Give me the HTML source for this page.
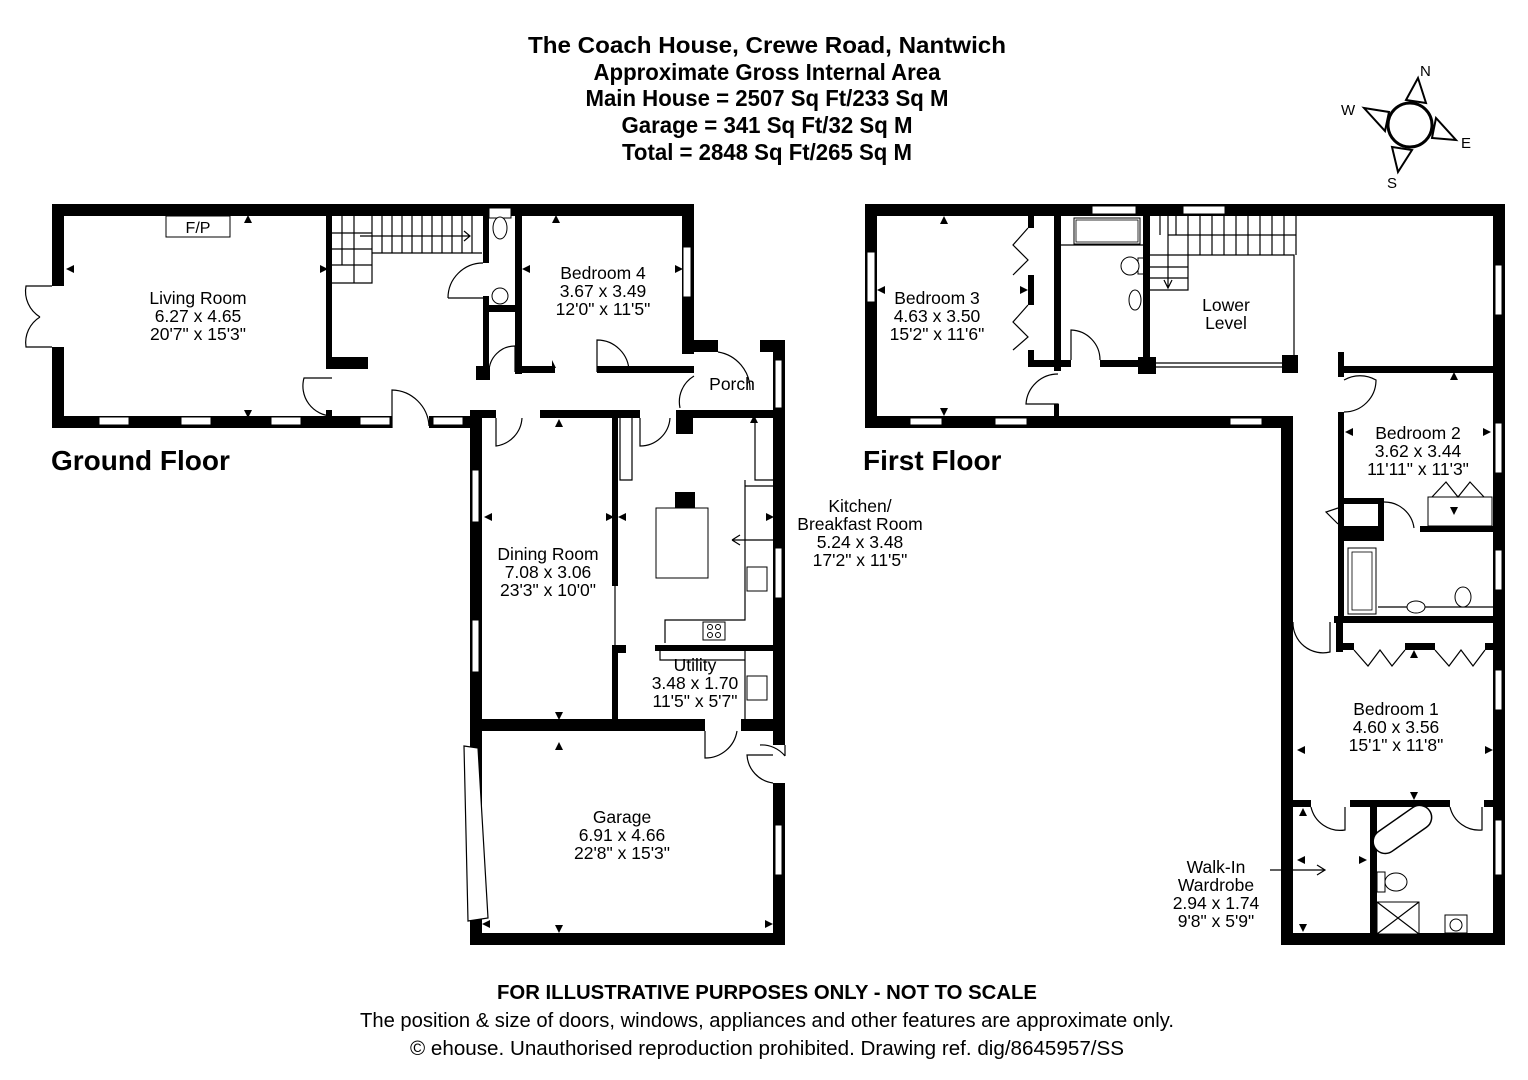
<!DOCTYPE html>
<html><head><meta charset="utf-8"><style>
html,body{margin:0;padding:0;background:#fff}
svg{display:block}
text{font-family:"Liberation Sans",Arial,sans-serif;fill:#000}
.t{font-size:23px;font-weight:bold;text-anchor:middle}
.r{font-size:17.5px;text-anchor:middle}
.f{font-size:28px;font-weight:bold}
.ft{font-size:20px;text-anchor:middle}
.w{fill:#000}
.win{fill:#fff;stroke:#000;stroke-width:1}
.ln{fill:none;stroke:#000;stroke-width:1.2}
</style></head><body>
<svg width="1528" height="1080" viewBox="0 0 1528 1080" xmlns="http://www.w3.org/2000/svg">
<!-- Title -->
<text class="t" x="767" y="53" textLength="478" lengthAdjust="spacingAndGlyphs">The Coach House, Crewe Road, Nantwich</text>
<text class="t" x="767" y="80" textLength="347" lengthAdjust="spacingAndGlyphs">Approximate Gross Internal Area</text>
<text class="t" x="767" y="106" textLength="363" lengthAdjust="spacingAndGlyphs">Main House = 2507 Sq Ft/233 Sq M</text>
<text class="t" x="767" y="133" textLength="291" lengthAdjust="spacingAndGlyphs">Garage = 341 Sq Ft/32 Sq M</text>
<text class="t" x="767" y="160" textLength="290" lengthAdjust="spacingAndGlyphs">Total = 2848 Sq Ft/265 Sq M</text>

<!-- Compass -->
<g>
<polygon points="1418,78 1426,103 1406,100" fill="#fff" stroke="#000" stroke-width="2"/>
<polygon points="1398,172 1392,147 1412,150" fill="#fff" stroke="#000" stroke-width="2"/>
<polygon points="1364,108 1389,112 1385,131" fill="#fff" stroke="#000" stroke-width="2"/>
<polygon points="1456,140 1432,138 1436,118" fill="#fff" stroke="#000" stroke-width="2"/>
<circle cx="1410" cy="125" r="22" fill="#fff" stroke="#000" stroke-width="3"/>
<text x="1420" y="76" style="font-size:15px">N</text>
<text x="1341" y="115" style="font-size:15px">W</text>
<text x="1461" y="148" style="font-size:15px">E</text>
<text x="1387" y="188" style="font-size:15px">S</text>
</g>

<!-- ============ GROUND FLOOR ============ -->
<g>
<rect class="w" x="52" y="204" width="642" height="12"/>
<rect class="w" x="52" y="204" width="12" height="82"/>
<rect class="w" x="52" y="347" width="12" height="81"/>
<rect class="w" x="52" y="416" width="340" height="12"/>
<rect class="w" x="429" y="416" width="53" height="12"/>
<rect class="win" x="99" y="417" width="30" height="8"/>
<rect class="win" x="181" y="417" width="30" height="8"/>
<rect class="win" x="271" y="417" width="30" height="8"/>
<rect class="win" x="360" y="417" width="30" height="8"/>
<rect class="win" x="433" y="417" width="30" height="8"/>
<path class="ln" d="M392,428 L392,390 A38,38 0 0 1 429,426"/>
<path class="ln" d="M52,286 L26,286 A30,30 0 0 0 40,317 M52,347 L26,347 A30,30 0 0 1 40,317"/>
<rect x="166" y="216" width="64" height="21" fill="#fff" stroke="#000" stroke-width="1"/>
<text x="198" y="233" style="font-size:16px;text-anchor:middle">F/P</text>
<rect class="w" x="326" y="216" width="6" height="146"/>
<rect class="w" x="326" y="357" width="42" height="12"/>
<path class="ln" d="M332,378 L304,378 A30,30 0 0 0 332,416"/>
<rect class="w" x="326" y="410" width="6" height="6"/>
<path class="ln" d="M342,216 V265 M332,233 H372 M332,249 H372 M332,265 H372 M372,265 V283 H332 M372,216 V283 M354,216 V283 M372,253 H482 M372,216 V253"/>
<path class="ln" d="M382,216 V253 M392,216 V253 M402,216 V253 M412,216 V253 M422,216 V253 M432,216 V253 M442,216 V253 M452,216 V253 M462,216 V253 M472,216 V253 M360,236 H470 M464,231 L470,236 L464,241"/>
<!-- WC -->
<rect class="w" x="483" y="216" width="6" height="47"/>
<rect class="w" x="515" y="216" width="7" height="158"/>
<rect class="w" x="483" y="305" width="39" height="7"/>
<rect class="w" x="483" y="296" width="6" height="84"/>
<path class="ln" d="M448,298 A35,35 0 0 1 483,263 M448,298 H483"/>
<rect x="489" y="208" width="22" height="10" fill="#fff" stroke="#000"/>
<ellipse cx="500" cy="228" rx="7" ry="11" fill="#fff" stroke="#000"/>
<circle cx="500" cy="296" r="8" fill="#fff" stroke="#000"/>
<path class="ln" d="M489,372 A26,26 0 0 1 515,346 L515,372"/>
<rect class="w" x="476" y="366" width="14" height="14"/>
<rect class="w" x="476" y="410" width="6" height="6"/>
<rect class="w" x="515" y="366" width="40" height="7"/>
<rect class="w" x="597" y="366" width="97" height="7"/>
<path class="ln" d="M597,372 L597,340 A32,32 0 0 1 629,372"/>
<rect class="w" x="682" y="204" width="12" height="150"/>
<rect class="win" x="683" y="247" width="8" height="50"/>
<text class="r" x="603" y="279">Bedroom 4</text>
<text class="r" x="603" y="297">3.67 x 3.49</text>
<text class="r" x="603" y="315">12'0" x 11'5"</text>
<!-- Porch -->
<rect class="w" x="694" y="340" width="24" height="12"/>
<rect class="w" x="760" y="340" width="25" height="12"/>
<rect class="w" x="773" y="340" width="12" height="405"/>
<rect class="win" x="775" y="360" width="7" height="48"/>
<path class="ln" d="M718,352 A38,38 0 0 1 750,390"/>
<path class="ln" d="M694,376 A30,30 0 0 0 680,408"/>
<text class="r" x="732" y="390">Porch</text>
<rect class="w" x="470" y="410" width="26" height="8"/>
<rect class="w" x="540" y="410" width="100" height="8"/>
<rect class="w" x="676" y="410" width="109" height="8"/>
<rect class="w" x="676" y="410" width="17" height="24"/>
<path class="ln" d="M496,418 V446 A30,30 0 0 0 522,418"/>
<path class="ln" d="M640,418 V446 A30,30 0 0 0 670,418"/>
<rect class="w" x="470" y="410" width="12" height="335"/>
<rect class="win" x="472" y="470" width="7" height="52"/>
<rect class="win" x="472" y="620" width="7" height="52"/>
<rect class="w" x="470" y="745" width="12" height="200"/>
<polygon points="464,746 478,748 488,918 468,921" fill="#fff" stroke="#000" stroke-width="1.2"/>
<rect class="w" x="612" y="416" width="6" height="170"/>
<path class="ln" d="M615,586 V645"/>
<rect class="w" x="612" y="645" width="6" height="77"/>
<rect class="w" x="612" y="645" width="14" height="8"/>
<rect class="w" x="470" y="719" width="235" height="12"/>
<rect class="w" x="741" y="719" width="44" height="12"/>
<path class="ln" d="M705,731 V758 A32,32 0 0 0 737,731"/>
<text class="r" x="548" y="560">Dining Room</text>
<text class="r" x="548" y="578">7.08 x 3.06</text>
<text class="r" x="548" y="596">23'3" x 10'0"</text>
<path class="ln" d="M620,418 V480 H632 V418 M755,418 V480 H773 M745,480 V620 H665 V643 M745,486 H773"/>
<rect class="w" x="675" y="492" width="20" height="16"/>
<rect x="656" y="508" width="52" height="70" fill="#fff" stroke="#000"/>
<rect x="747" y="567" width="20" height="24" fill="#fff" stroke="#000"/>
<rect x="703" y="622" width="22" height="18" fill="#fff" stroke="#000"/>
<circle cx="710" cy="627" r="2.5" fill="none" stroke="#000"/><circle cx="718" cy="627" r="2.5" fill="none" stroke="#000"/>
<circle cx="710" cy="635" r="2.5" fill="none" stroke="#000"/><circle cx="718" cy="635" r="2.5" fill="none" stroke="#000"/>
<rect class="w" x="655" y="645" width="118" height="6"/>
<path class="ln" d="M660,651 V660 H745 V720 M745,660 V650"/>
<rect x="747" y="676" width="20" height="24" fill="#fff" stroke="#000"/>
<rect class="win" x="775" y="548" width="7" height="50"/>
<path class="ln" d="M785,540 H732 M732,540 L740,535 M732,540 L740,545"/>
<text class="r" x="860" y="512">Kitchen/</text>
<text class="r" x="860" y="530">Breakfast Room</text>
<text class="r" x="860" y="548">5.24 x 3.48</text>
<text class="r" x="860" y="566">17'2" x 11'5"</text>
<text class="r" x="695" y="671">Utility</text>
<text class="r" x="695" y="689">3.48 x 1.70</text>
<text class="r" x="695" y="707">11'5" x 5'7"</text>
<path class="ln" d="M785,756 A30,30 0 0 0 760,745 V745 M785,756 V745 M773,783 A30,30 0 0 1 747,755 L773,755"/>
<rect class="w" x="773" y="783" width="12" height="162"/>
<rect class="win" x="775" y="825" width="7" height="50"/>
<rect class="w" x="470" y="933" width="315" height="12"/>
<text class="r" x="622" y="823">Garage</text>
<text class="r" x="622" y="841">6.91 x 4.66</text>
<text class="r" x="622" y="859">22'8" x 15'3"</text>
<text class="r" x="198" y="304">Living Room</text>
<text class="r" x="198" y="322">6.27 x 4.65</text>
<text class="r" x="198" y="340">20'7" x 15'3"</text>
<g fill="#000">
<path d="M244,223 l4,-8 4,8z M244,410 l4,8 4,-8z M74,265 l-8,4 8,4z M320,265 l8,4 -8,4z"/>
<path d="M552,223 l4,-8 4,8z M552,360 l4,8 -4,0z M530,265 l-8,4 8,4z M675,265 l8,4 -8,4z"/>
<path d="M555,427 l4,-8 4,8z M555,712 l4,8 4,-8z M492,513 l-8,4 8,4z M606,513 l8,4 -8,4z M626,513 l-8,4 8,4z M766,513 l8,4 -8,4z"/>
<path d="M555,750 l4,-8 4,8z M555,925 l4,8 4,-8z M490,920 l-8,4 8,4z M765,920 l8,4 -8,4z M750,423 l4,-8 4,8z"/>
</g>
<text class="f" x="51" y="470">Ground Floor</text>
</g>

<!-- ============ FIRST FLOOR ============ -->
<g>
<rect class="w" x="865" y="204" width="640" height="12"/>
<rect class="win" x="1092" y="206" width="44" height="8"/>
<rect class="win" x="1183" y="206" width="42" height="8"/>
<rect class="w" x="865" y="204" width="12" height="224"/>
<rect class="win" x="867" y="252" width="8" height="50"/>
<rect class="w" x="865" y="416" width="428" height="12"/>
<rect class="win" x="910" y="418" width="32" height="7"/>
<rect class="win" x="995" y="418" width="32" height="7"/>
<rect class="win" x="1230" y="418" width="32" height="7"/>
<rect class="w" x="1281" y="416" width="12" height="529"/>
<rect class="w" x="1493" y="204" width="12" height="741"/>
<rect class="win" x="1495" y="265" width="7" height="50"/>
<rect class="win" x="1495" y="423" width="7" height="50"/>
<rect class="win" x="1495" y="550" width="7" height="40"/>
<rect class="win" x="1495" y="670" width="7" height="40"/>
<rect class="win" x="1495" y="820" width="7" height="55"/>
<rect class="w" x="1281" y="933" width="224" height="12"/>
<rect class="w" x="1028" y="216" width="6" height="12"/>
<rect class="w" x="1028" y="275" width="6" height="30"/>
<rect class="w" x="1028" y="350" width="6" height="16"/>
<rect class="w" x="1028" y="360" width="30" height="7"/>
<path class="ln" d="M1028,228 L1013,245 L1028,260 L1013,275 M1028,305 L1013,322 L1028,337 L1013,350"/>
<rect class="w" x="1054" y="216" width="7" height="155"/>
<path class="ln" d="M1058,374 A32,32 0 0 0 1026,404 L1058,404 V416"/>
<rect class="w" x="1054" y="404" width="5" height="12"/>
<text class="r" x="937" y="304">Bedroom 3</text>
<text class="r" x="937" y="322">4.63 x 3.50</text>
<text class="r" x="937" y="340">15'2" x 11'6"</text>
<rect x="1074" y="218" width="66" height="26" fill="#fff" stroke="#000"/>
<rect x="1076" y="220" width="62" height="22" fill="none" stroke="#000" stroke-width=".8"/>
<path class="ln" d="M1061,245 H1145"/>
<rect x="1138" y="258" width="8" height="16" fill="#fff" stroke="#000"/>
<ellipse cx="1130" cy="266" rx="9" ry="9" fill="#fff" stroke="#000"/>
<ellipse cx="1135" cy="300" rx="6" ry="10" fill="#fff" stroke="#000"/>
<rect class="w" x="1061" y="360" width="10" height="7"/>
<rect class="w" x="1100" y="360" width="50" height="7"/>
<path class="ln" d="M1071,360 V330 A30,30 0 0 1 1100,360"/>
<rect class="w" x="1143" y="216" width="7" height="157"/>
<rect class="w" x="1138" y="357" width="18" height="17"/>
<path class="ln" d="M1150,255 H1188 V290 H1150 M1150,267 H1188 M1150,278 H1188 M1168,235 V287 M1164,280 L1168,288 L1172,280"/>
<path class="ln" d="M1160,216 V235 M1168,216 V235 M1176,216 V235 M1188,216 V255 M1200,216 V255 M1212,216 V255 M1224,216 V255 M1236,216 V255 M1248,216 V255 M1260,216 V255 M1272,216 V255 M1284,216 V255 M1296,216 V255 M1168,235 H1296"/>
<path class="ln" d="M1188,255 H1294 V366 M1156,363 H1282 M1156,367 H1282"/>
<rect class="w" x="1282" y="355" width="16" height="18"/>
<text class="r" x="1226" y="311">Lower</text>
<text class="r" x="1226" y="329">Level</text>
<rect class="w" x="1338" y="352" width="6" height="25"/>
<rect class="w" x="1338" y="366" width="160" height="7"/>
<path class="ln" d="M1344,380 A32,32 0 0 1 1376,380 A32,32 0 0 1 1344,412"/>
<rect class="w" x="1338" y="412" width="6" height="90"/>
<rect class="w" x="1338" y="498" width="46" height="6"/>
<rect class="w" x="1378" y="498" width="6" height="28"/>
<rect class="w" x="1338" y="498" width="6" height="120"/>
<rect class="w" x="1338" y="526" width="46" height="15"/>
<path class="ln" d="M1384,502 A30,30 0 0 1 1414,528"/>
<rect class="w" x="1420" y="526" width="78" height="6"/>
<rect x="1428" y="497" width="64" height="29" fill="#fff" stroke="#000"/>
<path class="ln" d="M1432,497 L1446,482 L1458,497 L1470,482 L1484,497"/>
<path class="ln" d="M1338,508 L1326,512 L1338,524"/>
<text class="r" x="1418" y="439">Bedroom 2</text>
<text class="r" x="1418" y="457">3.62 x 3.44</text>
<text class="r" x="1418" y="475">11'11" x 11'3"</text>
<rect x="1348" y="548" width="28" height="66" fill="#fff" stroke="#000"/>
<rect x="1352" y="552" width="20" height="58" fill="none" stroke="#000" stroke-width=".8"/>
<path class="ln" d="M1378,607 H1493"/>
<ellipse cx="1416" cy="607" rx="9" ry="6" fill="#fff" stroke="#000"/>
<ellipse cx="1463" cy="597" rx="8" ry="10" fill="#fff" stroke="#000"/>
<rect class="w" x="1334" y="616" width="164" height="7"/>
<path class="ln" d="M1293,622 A30,30 0 0 0 1330,652 V622"/>
<rect class="w" x="1336" y="622" width="7" height="30"/>
<rect class="w" x="1336" y="643" width="18" height="7"/>
<rect class="w" x="1405" y="643" width="30" height="7"/>
<rect class="w" x="1485" y="643" width="13" height="7"/>
<path class="ln" d="M1354,650 L1368,666 L1380,650 L1392,666 L1405,650 M1435,650 L1449,666 L1461,650 L1473,666 L1485,650"/>
<text class="r" x="1396" y="715">Bedroom 1</text>
<text class="r" x="1396" y="733">4.60 x 3.56</text>
<text class="r" x="1396" y="751">15'1" x 11'8"</text>
<rect class="w" x="1293" y="800" width="18" height="7"/>
<rect class="w" x="1350" y="800" width="100" height="7"/>
<rect class="w" x="1484" y="800" width="14" height="7"/>
<path class="ln" d="M1311,807 A30,30 0 0 0 1345,830 V807 M1450,807 A30,30 0 0 0 1482,830 V807"/>
<rect class="w" x="1370" y="807" width="7" height="130"/>
<rect x="1374" y="816" width="66" height="24" rx="12" transform="rotate(-35 1407 836)" fill="#fff" stroke="#000" stroke-width="1.5"/>
<rect x="1377" y="872" width="8" height="20" fill="#fff" stroke="#000"/>
<ellipse cx="1396" cy="882" rx="11" ry="9" fill="#fff" stroke="#000"/>
<rect x="1377" y="902" width="42" height="32" fill="#fff" stroke="#000"/>
<path class="ln" d="M1377,902 L1419,934 M1419,902 L1377,934"/>
<rect x="1445" y="915" width="22" height="18" fill="#fff" stroke="#000"/>
<circle cx="1456" cy="925" r="6" fill="none" stroke="#000"/>
<path class="ln" d="M1270,870 H1325 M1317,865 L1325,870 L1317,875"/>
<text class="r" x="1216" y="873">Walk-In</text>
<text class="r" x="1216" y="891">Wardrobe</text>
<text class="r" x="1216" y="909">2.94 x 1.74</text>
<text class="r" x="1216" y="927">9'8" x 5'9"</text>
<g fill="#000">
<path d="M940,224 l4,-8 4,8z M940,408 l4,8 4,-8z M885,286 l-8,4 8,4z M1020,286 l8,4 -8,4z"/>
<path d="M1450,380 l4,-8 4,8z M1450,507 l4,8 4,-8z M1353,428 l-8,4 8,4z M1483,428 l8,4 -8,4z"/>
<path d="M1410,658 l4,-8 4,8z M1410,792 l4,8 4,-8z M1305,746 l-8,4 8,4z M1485,746 l8,4 -8,4z"/>
<path d="M1299,816 l4,-8 4,8z M1299,924 l4,8 4,-8z M1305,856 l-8,4 8,4z M1359,856 l8,4 -8,4z"/>
</g>
<text class="f" x="863" y="470">First Floor</text>
</g>

<!-- Footer -->
<text x="767" y="999" style="font-size:20px;font-weight:bold;text-anchor:middle" textLength="540" lengthAdjust="spacingAndGlyphs">FOR ILLUSTRATIVE PURPOSES ONLY - NOT TO SCALE</text>
<text class="ft" x="767" y="1027" textLength="814" lengthAdjust="spacingAndGlyphs">The position &amp; size of doors, windows, appliances and other features are approximate only.</text>
<text class="ft" x="767" y="1055" textLength="714" lengthAdjust="spacingAndGlyphs">© ehouse. Unauthorised reproduction prohibited. Drawing ref. dig/8645957/SS</text>
</svg>
</body></html>
